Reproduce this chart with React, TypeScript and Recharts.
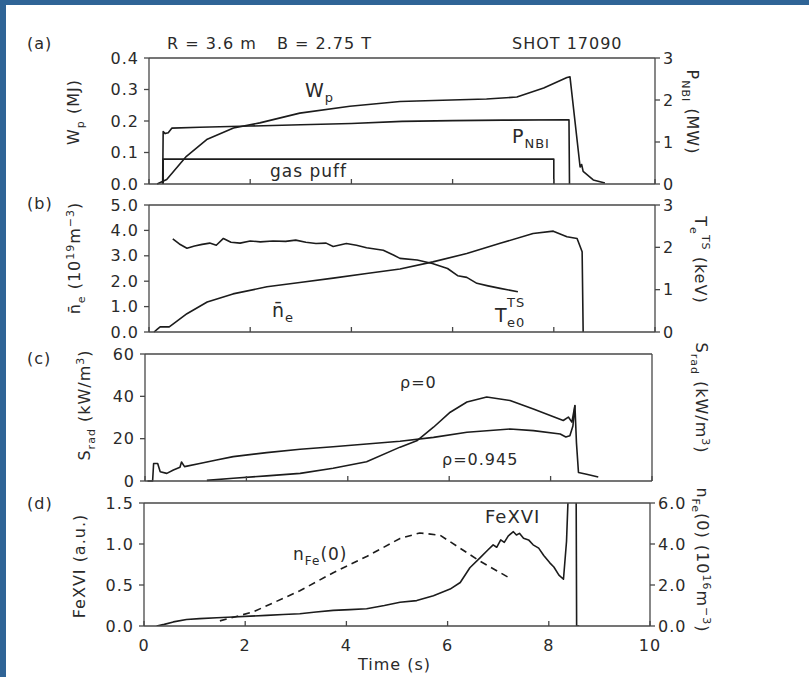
import { ComposedChart, Line, XAxis, YAxis } from "recharts";

const W = 809;
const H = 677;
const INK = "#1c1c1c";
const FRAME = "#474747";
const TEXT = "#2a2a2a";
const FONT = "'DejaVu Sans', sans-serif";

const timeTicks = [0, 2, 4, 6, 8, 10];

// (a) stored energy, NBI power, gas puff  [time (s), value]
const wp = [[0.16, 0], [0.35, 0.014], [0.74, 0.088], [1.14, 0.141], [1.67, 0.178], [2.19, 0.194], [2.98, 0.225], [3.97, 0.247], [4.96, 0.262], [5.8, 0.266], [6.67, 0.27], [7.27, 0.276], [7.8, 0.305], [8.26, 0.338], [8.32, 0.34], [8.52, 0.054], [8.55, 0.062], [8.58, 0.04], [8.78, 0.013], [9.01, 0.003]];
const pnbi = [[0.27, 0], [0.28, 1.25], [0.32, 1.2], [0.38, 1.22], [0.45, 1.33], [1, 1.35], [2, 1.38], [3, 1.41], [4, 1.44], [5, 1.49], [6, 1.51], [7, 1.52], [8.3, 1.53], [8.31, 0]];
const gasPuff = [[0.28, 0], [0.28, 0.079], [8.0, 0.079], [8.0, 0]];

// (b) line density (1e19 m-3) and central Te (keV)
const ne = [[0.1, 0], [0.16, 0.1], [0.22, 0.2], [0.4, 0.2], [0.5, 0.35], [0.75, 0.72], [1.15, 1.18], [1.66, 1.5], [2.33, 1.78], [2.98, 1.95], [3.64, 2.12], [4.3, 2.3], [4.96, 2.48], [5.61, 2.76], [6.28, 3.09], [6.94, 3.49], [7.59, 3.88], [7.99, 3.97], [8.26, 3.75], [8.46, 3.68], [8.56, 3.16], [8.58, 0]];
const te = [[0.47, 2.2], [0.6, 2.08], [0.75, 1.98], [0.9, 2.03], [1.05, 2.07], [1.2, 2.1], [1.33, 2.05], [1.47, 2.21], [1.62, 2.12], [1.8, 2.1], [2.0, 2.15], [2.2, 2.13], [2.45, 2.15], [2.7, 2.14], [2.9, 2.17], [3.1, 2.12], [3.3, 2.09], [3.5, 2.1], [3.64, 2.02], [3.9, 2.09], [4.1, 2.05], [4.3, 1.99], [4.63, 1.93], [4.83, 1.82], [4.96, 1.74], [5.3, 1.7], [5.6, 1.62], [5.9, 1.5], [6.1, 1.33], [6.28, 1.29], [6.48, 1.15], [6.7, 1.09], [6.94, 1.03], [7.29, 0.95]];

// (c) radiated power density (kW/m3)
const sradEdge = [[0.05, 0], [0.15, 0], [0.17, 8.3], [0.25, 8.3], [0.3, 4.4], [0.43, 3.6], [0.56, 5.2], [0.69, 6.5], [0.72, 9], [0.78, 6.8], [1.08, 8.3], [1.41, 9.9], [1.74, 11.5], [2.4, 13.4], [3.06, 15], [3.71, 16.2], [4.37, 17.5], [5.03, 18.8], [5.69, 20.6], [6.35, 23], [7.2, 24.6], [7.66, 23.8], [8.19, 22.2], [8.3, 20.8], [8.38, 21.4], [8.44, 26], [8.48, 35.7], [8.51, 18], [8.55, 4], [8.71, 3.2], [8.94, 1.9]];
const sradCore = [[1.22, 0.3], [1.74, 1.3], [2.4, 2.4], [3.06, 3.6], [3.71, 6], [4.37, 9.1], [5.03, 16], [5.36, 19], [5.69, 25.4], [6.02, 32.5], [6.35, 37.3], [6.74, 39.7], [7.2, 38], [7.66, 34], [8.25, 28.6], [8.35, 30.2], [8.42, 27.8], [8.48, 35.7]];

// (d) FeXVI emission (a.u.) and central iron density (1e16 m-3)
const fexvi = [[0.25, 0], [0.4, 0.02], [0.58, 0.05], [0.84, 0.08], [1.1, 0.09], [1.44, 0.1], [1.76, 0.11], [2.1, 0.12], [2.42, 0.13], [2.75, 0.14], [3.08, 0.15], [3.4, 0.17], [3.74, 0.19], [4.07, 0.2], [4.4, 0.21], [4.75, 0.25], [5.06, 0.29], [5.39, 0.31], [5.72, 0.37], [6.05, 0.45], [6.25, 0.53], [6.44, 0.71], [6.64, 0.83], [6.8, 0.93], [6.9, 0.99], [6.97, 0.96], [7.05, 1.05], [7.12, 1.02], [7.2, 1.1], [7.3, 1.15], [7.36, 1.11], [7.42, 1.13], [7.5, 1.07], [7.6, 1.05], [7.69, 0.99], [7.8, 0.95], [7.9, 0.86], [8.02, 0.77], [8.1, 0.72], [8.2, 0.62], [8.29, 0.57], [8.35, 1.03], [8.39, 1.7], [8.54, 1.7], [8.55, 0], [8.6, 0]];
const nfe = [[1.5, 0.25], [2.16, 0.69], [3.08, 1.72], [3.74, 2.6], [4.4, 3.39], [5.06, 4.27], [5.45, 4.54], [5.85, 4.43], [6.25, 3.79], [6.64, 3.16], [7.04, 2.6], [7.23, 2.33]];

const pts = (a: number[][]) => a.map(([t, v]) => ({ t, v }));
const f1 = (v: number) => v.toFixed(1);
const f0 = (v: number) => String(v);

type AxisCfg = { domain: [number, number]; ticks: number[]; fmt: (v: number) => string; overflow?: boolean };
type Series = { data: number[][]; y: "l" | "r"; dash?: string };
type PanelProps = {
  box: { left: number; right: number; top: number; bottom: number };
  left: AxisCfg;
  right: AxisCfg;
  lines: Series[];
  timeLabels?: boolean;
};

const tickStyle = { fill: TEXT, fontSize: 16 };
const frameLine = { stroke: FRAME, strokeWidth: 1.3 };

function Panel({ box, left, right, lines, timeLabels = false }: PanelProps) {
  const bottomH = timeLabels ? 45 : 1;
  const h = box.bottom - box.top;
  const height = 10 + h + bottomH + (timeLabels ? 0 : 9);
  return (
    <div style={{ position: "absolute", left: 0, top: box.top - 10 }}>
      <ComposedChart
        width={W}
        height={height}
        margin={{ top: 9, right: 0, bottom: timeLabels ? 0 : 9, left: 0 }}
      >
        <XAxis
          xAxisId="top"
          orientation="top"
          dataKey="t"
          type="number"
          domain={[0, 10]}
          ticks={timeTicks}
          interval={0}
          height={1}
          tickSize={-5}
          tickFormatter={() => ""}
          axisLine={frameLine}
          tickLine={frameLine}
        />
        <XAxis
          xAxisId="b"
          dataKey="t"
          type="number"
          domain={[0, 10]}
          ticks={timeTicks}
          interval={0}
          height={bottomH}
          tickSize={-5}
          tickMargin={timeLabels ? 19 : 0}
          tickFormatter={timeLabels ? f0 : () => ""}
          tick={tickStyle}
          axisLine={frameLine}
          tickLine={frameLine}
        />
        <YAxis
          yAxisId="l"
          orientation="left"
          width={box.left}
          type="number"
          domain={left.domain}
          ticks={left.ticks}
          interval={0}
          allowDataOverflow={left.overflow}
          tickFormatter={left.fmt}
          tickSize={5}
          tickMargin={5}
          tick={tickStyle}
          axisLine={frameLine}
          tickLine={frameLine}
        />
        <YAxis
          yAxisId="r"
          orientation="right"
          width={W - box.right}
          type="number"
          domain={right.domain}
          ticks={right.ticks}
          interval={0}
          tickFormatter={right.fmt}
          tickSize={5}
          tickMargin={3}
          tick={tickStyle}
          axisLine={frameLine}
          tickLine={frameLine}
        />
        {lines.map((s, i) => (
          <Line
            key={i}
            data={pts(s.data)}
            dataKey="v"
            xAxisId="b"
            yAxisId={s.y}
            type="linear"
            stroke={INK}
            strokeWidth={1.6}
            strokeDasharray={s.dash}
            strokeLinejoin="round"
            dot={false}
            activeDot={false}
            isAnimationActive={false}
          />
        ))}
      </ComposedChart>
    </div>
  );
}

function Notes() {
  return (
    <svg
      width={W}
      height={H}
      style={{ position: "absolute", left: 0, top: 0, pointerEvents: "none" }}
      fill={TEXT}
      fontSize={16}
    >
      <text x={27} y={49}>(a)</text>
      <text x={27} y={209}>(b)</text>
      <text x={27} y={364}>(c)</text>
      <text x={27} y={509}>(d)</text>
      <text x={167} y={49}>R = 3.6 m</text>
      <text x={277} y={49}>B = 2.75 T</text>
      <text x={512} y={49}>SHOT 17090</text>

      {/* left axis titles */}
      <text transform="rotate(-90 79 112)" x={79} y={112} textAnchor="middle">
        W<tspan dy={5} fontSize={11}>p</tspan><tspan dy={-5}> (MJ)</tspan>
      </text>
      <text transform="rotate(-90 80 258)" x={80} y={258} textAnchor="middle">
        {"n\u0304"}<tspan dy={5} fontSize={11}>e</tspan><tspan dy={-5}> (10</tspan>
        <tspan dy={-6} fontSize={11}>19</tspan><tspan dy={6}>m</tspan>
        <tspan dy={-6} fontSize={11}>{"\u22123"}</tspan><tspan dy={6}>)</tspan>
      </text>
      <text transform="rotate(-90 90 405)" x={90} y={405} textAnchor="middle">
        S<tspan dy={5} fontSize={11}>rad</tspan><tspan dy={-5}> (kW/m</tspan>
        <tspan dy={-6} fontSize={11}>3</tspan><tspan dy={6}>)</tspan>
      </text>
      <text transform="rotate(-90 85 566)" x={85} y={566} textAnchor="middle">
        FeXVI (a.u.)
      </text>

      {/* right axis titles */}
      <text transform="rotate(90 687 112)" x={687} y={112} textAnchor="middle">
        P<tspan dy={5} fontSize={11}>NBI</tspan><tspan dy={-5}> (MW)</tspan>
      </text>
      <text transform="rotate(90 695 260)" x={695} y={260} textAnchor="middle">
        T<tspan dy={5} fontSize={11}>e</tspan><tspan dy={-12} fontSize={11}>TS</tspan>
        <tspan dy={7}> (keV)</tspan>
      </text>
      <text transform="rotate(90 696 398)" x={696} y={398} textAnchor="middle">
        S<tspan dy={5} fontSize={11}>rad</tspan><tspan dy={-5}> (kW/m</tspan>
        <tspan dy={-6} fontSize={11}>3</tspan><tspan dy={6}>)</tspan>
      </text>
      <text transform="rotate(90 697 560)" x={697} y={560} textAnchor="middle">
        n<tspan dy={5} fontSize={11}>Fe</tspan><tspan dy={-5}>(0) (10</tspan>
        <tspan dy={-6} fontSize={11}>16</tspan><tspan dy={6}>m</tspan>
        <tspan dy={-6} fontSize={11}>{"\u22123"}</tspan><tspan dy={6}>)</tspan>
      </text>

      {/* curve annotations */}
      <text x={305} y={97} fontSize={19}>
        W<tspan dy={5} fontSize={13}>p</tspan>
      </text>
      <text x={512} y={143} fontSize={19}>
        P<tspan dy={5} fontSize={13}>NBI</tspan>
      </text>
      <text x={270} y={177} fontSize={17}>gas puff</text>
      <text x={272} y={317} fontSize={19}>
        {"n\u0304"}<tspan dy={5} fontSize={13}>e</tspan>
      </text>
      <text x={495} y={322} fontSize={19}>T</text>
      <text x={507} y={307} fontSize={13}>TS</text>
      <text x={507} y={327} fontSize={13}>e0</text>
      <text x={400} y={388}>{"\u03c1=0"}</text>
      <text x={442} y={465}>{"\u03c1=0.945"}</text>
      <text x={485} y={523} fontSize={18}>FeXVI</text>
      <text x={293} y={560} fontSize={17}>
        n<tspan dy={5} fontSize={12}>Fe</tspan><tspan dy={-5}>(0)</tspan>
      </text>
      <text x={358} y={670}>Time (s)</text>
    </svg>
  );
}

export default function App() {
  return (
    <div
      style={{
        position: "absolute",
        left: 0,
        top: 0,
        width: W,
        height: H,
        background: "#fff",
        overflow: "hidden",
        fontFamily: FONT,
        letterSpacing: "1px",
      }}
    >
      <div style={{ position: "absolute", left: 0, top: 0, width: 6, height: H, background: "#2f6496" }} />
      <div style={{ position: "absolute", left: 0, top: 0, width: W, height: 5, background: "#2f6496" }} />

      <Panel
        box={{ left: 149, right: 655, top: 58, bottom: 184 }}
        left={{ domain: [0, 0.4], ticks: [0, 0.1, 0.2, 0.3, 0.4], fmt: f1 }}
        right={{ domain: [0, 3], ticks: [0, 1, 2, 3], fmt: f0 }}
        lines={[
          { data: wp, y: "l" },
          { data: pnbi, y: "r" },
          { data: gasPuff, y: "l" },
        ]}
      />
      <Panel
        box={{ left: 149, right: 655, top: 205, bottom: 332 }}
        left={{ domain: [0, 5], ticks: [0, 1, 2, 3, 4, 5], fmt: f1 }}
        right={{ domain: [0, 3], ticks: [0, 1, 2, 3], fmt: f0 }}
        lines={[
          { data: ne, y: "l" },
          { data: te, y: "r" },
        ]}
      />
      <Panel
        box={{ left: 145, right: 652, top: 354, bottom: 481 }}
        left={{ domain: [0, 60], ticks: [0, 20, 40, 60], fmt: f0 }}
        right={{ domain: [0, 60], ticks: [0, 20, 40, 60], fmt: f0 }}
        lines={[
          { data: sradEdge, y: "l" },
          { data: sradCore, y: "l" },
        ]}
      />
      <Panel
        box={{ left: 144, right: 650, top: 503, bottom: 626 }}
        left={{ domain: [0, 1.5], ticks: [0, 0.5, 1, 1.5], fmt: f1, overflow: true }}
        right={{ domain: [0, 6], ticks: [0, 2, 4, 6], fmt: f1 }}
        lines={[
          { data: fexvi, y: "l" },
          { data: nfe, y: "r", dash: "7 5" },
        ]}
        timeLabels
      />
      <Notes />
    </div>
  );
}
